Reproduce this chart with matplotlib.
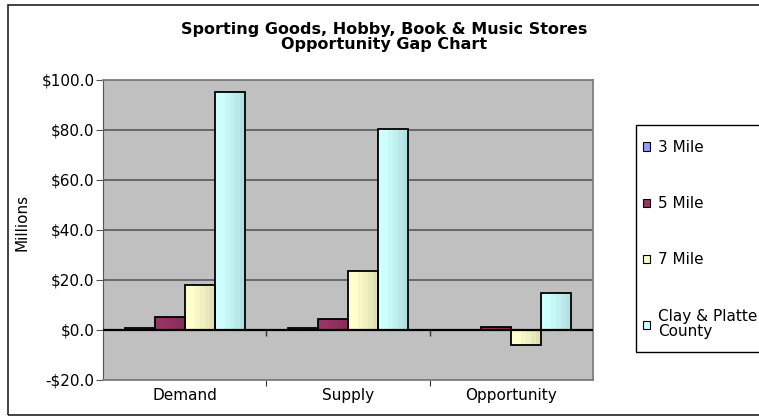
import numpy as np
import matplotlib
matplotlib.use('Agg')
from matplotlib import pyplot as plt
from matplotlib.patches import Patch, Rectangle
from matplotlib.colors import to_rgb

plt.rcParams['font.family'] = ['DejaVu Sans']

categories = ['Demand', 'Supply', 'Opportunity']
series = ['3 Mile', '5 Mile', '7 Mile', 'Clay & Platte\nCounty']
mile3 = [0.8, 0.9, -0.1]
mile5 = [5.4, 4.5, 1.1]
mile7 = [18.2, 23.8, -5.8]
county = [95.4, 80.6, 14.9]
values = [mile3, mile5, mile7, county]
colors = ['#9999FF', '#993366', '#FFFFCC', '#CCFFFF']
yticks = [-20, 0, 20, 40, 60, 80, 100]

fig = plt.figure(figsize=(7.59, 4.16), dpi=100)
# outer chart border (right side runs off the picture)
fig.patches.append(Rectangle((8 / 759, 1 / 416), 1.2, 410 / 416, transform=fig.transFigure,
                             fill=False, edgecolor='#222222', linewidth=1.2))
# legend box, also running off the right edge
fig.patches.append(Rectangle((636 / 759, 64 / 416), 0.3, 227 / 416, transform=fig.transFigure,
                             fill=False, edgecolor='black', linewidth=1))

ax = fig.add_axes([103 / 759, 36 / 416, 490 / 759, 300 / 416])
ax.set_facecolor('#C0C0C0')

x = np.arange(len(categories))
width = 0.184
nstripe = 6
for i, (vals, color) in enumerate(zip(values, colors)):
    pos = x + (i - 1.5) * width
    base = np.array(to_rgb(color))
    # shaded stripes, lighter on the left, darker to the right
    for s in range(nstripe):
        f = 1.0 if s < 2 else 1.0 - 0.03 * (s - 1)
        sw = width / nstripe
        ax.bar(pos - width / 2 + (s + 0.5) * sw, vals, sw * 1.02, color=np.clip(base * f, 0, 1),
               linewidth=0, zorder=3)
    ax.bar(pos, vals, width, fill=False, edgecolor='black', linewidth=1.3, zorder=4)

ax.set_xlim(-0.5, 2.5)
ax.set_ylim(-20, 100)
ax.set_yticks(yticks)
ax.set_yticklabels(['-$%.1f' % abs(v) if v < 0 else '$%.1f' % v for v in yticks], fontsize=11)
ax.yaxis.grid(True, color='#606060', linewidth=1.3, zorder=0)
ax.set_axisbelow(True)
ax.axhline(0, color='black', linewidth=1.6, zorder=5)
ax.tick_params(axis='y', direction='out', length=5, color='#555555', pad=1)

ax.set_xticks([0.5, 1.5])
ax.set_xticklabels([])
ax.tick_params(axis='x', direction='out', length=4, color='#333333')
ax.vlines([0.5, 1.5], -2.2, 0, color='#333333', linewidth=1, zorder=5)
for xi, cat in zip(x, categories):
    ax.text(xi, -23.2, cat, ha='center', va='top', fontsize=11)

for side in ['top', 'right', 'bottom']:
    ax.spines[side].set_color('#808080')
    ax.spines[side].set_linewidth(1.3)
ax.spines['left'].set_color('#555555')

fig.text(22 / 759, 1 - 222 / 416, 'Millions', rotation=90, ha='center', va='center', fontsize=11)

fig.text(384 / 759, 1 - 37 / 416, 'Sporting Goods, Hobby, Book & Music Stores\nOpportunity Gap Chart',
         ha='center', va='center', fontsize=11.5, fontweight='bold', linespacing=1.0)

handles = [Patch(facecolor=c, edgecolor='black', linewidth=0.8) for c in colors]
leg = fig.legend(handles, series, loc='upper left', bbox_to_anchor=(643 / 759, 1 - 140 / 416),
                 fontsize=11, frameon=False, handlelength=0.45, handleheight=0.45,
                 handletextpad=0.55, labelspacing=2.7, borderpad=0, borderaxespad=0)
for t in leg.get_texts():
    t.set_linespacing(1.05)

fig.savefig('out.png', dpi=100)
